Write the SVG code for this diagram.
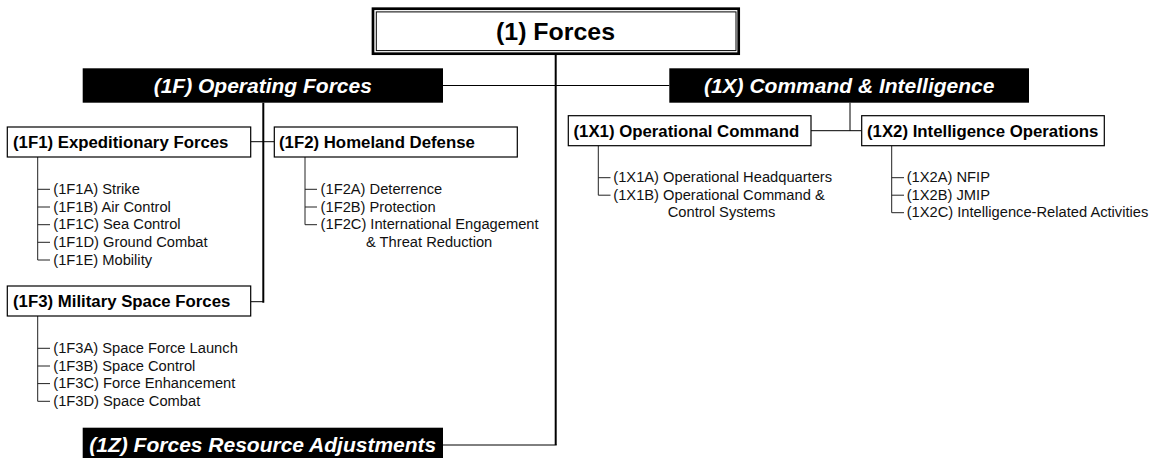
<svg xmlns="http://www.w3.org/2000/svg" width="1158" height="458" viewBox="0 0 1158 458">
<style>
.box{fill:#fff;stroke:#000;stroke-width:1.2}
.bar{fill:#000}
.bt{font-family:"Liberation Sans",Arial,sans-serif;font-weight:bold;font-size:16.8px;fill:#000}
.ht{font-family:"Liberation Sans",Arial,sans-serif;font-weight:bold;font-style:italic;font-size:21px;fill:#fff;text-anchor:middle}
.tt{font-family:"Liberation Sans",Arial,sans-serif;font-weight:bold;font-size:24px;fill:#000;text-anchor:middle}
.it{font-family:"Liberation Sans",Arial,sans-serif;font-size:14.7px;fill:#111}
.c{stroke:#000;fill:none;stroke-width:1}
.ck{stroke:#000;fill:none;stroke-width:2}
.sl{stroke:#222;fill:none;stroke-width:1}
</style>
<rect width="1158" height="458" fill="#fff"/>
<g id="connectors">
<path class="ck" d="M555.7 55V445"/>
<path class="c" d="M443 445H556.7" stroke-width="1.3"/>
<path class="c" d="M443 85.5H669.3"/>
<path class="ck" d="M263.3 102.7V302.7"/>
<path class="c" d="M250.7 301.7H264"/>
<path class="c" d="M250.7 141.7H274.3"/>
<path class="c" d="M850 102.7V130.7M811 130.7H861.7"/>
<path class="sl" d="M37.7 157V260H50M37.7 189.3H50M37.7 207H50M37.7 224.7H50M37.7 242.3H50"/>
<path class="sl" d="M305 157V224.7H317M305 189.3H317M305 207H317"/>
<path class="sl" d="M37.7 316V401.3H50M37.7 348.3H50M37.7 366H50M37.7 383.6H50"/>
<path class="sl" d="M598.3 145.7V195.2H610.5M598.3 177.7H610.5"/>
<path class="sl" d="M891.7 145.7V212.7H904M891.7 177.7H904M891.7 195.2H904"/>
</g>
<g id="n1">
<rect x="373" y="8.7" width="365.7" height="45" fill="#fff" stroke="#000" stroke-width="2.7"/>
<rect x="376.3" y="11.9" width="359.7" height="38.7" fill="none" stroke="#000" stroke-width="1"/>
<text class="tt" x="555.5" y="40" textLength="119" lengthAdjust="spacingAndGlyphs">(1) Forces</text>
</g>
<g id="n1F">
<rect class="bar" x="82.7" y="68.3" width="360.3" height="34.4"/>
<text class="ht" x="262.8" y="92.5">(1F) Operating Forces</text>
</g>
<g id="n1X">
<rect class="bar" x="669.3" y="68.3" width="359.7" height="34.4"/>
<text class="ht" x="849.2" y="92.5">(1X) Command &amp; Intelligence</text>
</g>
<g id="n1Z">
<rect class="bar" x="82.7" y="427.7" width="360.3" height="34.4"/>
<text class="ht" x="262.8" y="452.3">(1Z) Forces Resource Adjustments</text>
</g>
<g id="n1F1">
<rect class="box" x="7.3" y="127" width="243.4" height="30"/>
<text class="bt" x="13" y="148">(1F1) Expeditionary Forces</text>
</g>
<g id="n1F2">
<rect class="box" x="274.3" y="127" width="243" height="30"/>
<text class="bt" x="279" y="148">(1F2) Homeland Defense</text>
</g>
<g id="n1F3">
<rect class="box" x="7.3" y="286" width="243.4" height="30"/>
<text class="bt" x="13" y="307">(1F3) Military Space Forces</text>
</g>
<g id="n1X1">
<rect class="box" x="568.3" y="115.7" width="242.7" height="30"/>
<text class="bt" x="573.5" y="136.7">(1X1) Operational Command</text>
</g>
<g id="n1X2">
<rect class="box" x="861.7" y="115.7" width="242.6" height="30"/>
<text class="bt" x="867" y="136.7">(1X2) Intelligence Operations</text>
</g>
<g id="n1F1A"><text class="it" x="53.3" y="194">(1F1A) Strike</text></g>
<g id="n1F1B"><text class="it" x="53.3" y="211.7">(1F1B) Air Control</text></g>
<g id="n1F1C"><text class="it" x="53.3" y="229.4">(1F1C) Sea Control</text></g>
<g id="n1F1D"><text class="it" x="53.3" y="247">(1F1D) Ground Combat</text></g>
<g id="n1F1E"><text class="it" x="53.3" y="264.7">(1F1E) Mobility</text></g>
<g id="n1F2A"><text class="it" x="320.6" y="194">(1F2A) Deterrence</text></g>
<g id="n1F2B"><text class="it" x="320.6" y="211.7">(1F2B) Protection</text></g>
<g id="n1F2C"><text class="it" x="320.6" y="229.4">(1F2C) International Engagement</text><text class="it" x="366" y="247">&amp; Threat Reduction</text></g>
<g id="n1F3A"><text class="it" x="53.3" y="353">(1F3A) Space Force Launch</text></g>
<g id="n1F3B"><text class="it" x="53.3" y="370.7">(1F3B) Space Control</text></g>
<g id="n1F3C"><text class="it" x="53.3" y="388.3">(1F3C) Force Enhancement</text></g>
<g id="n1F3D"><text class="it" x="53.3" y="406">(1F3D) Space Combat</text></g>
<g id="n1X1A"><text class="it" x="613.3" y="182.4">(1X1A) Operational Headquarters</text></g>
<g id="n1X1B"><text class="it" x="613.3" y="199.9">(1X1B) Operational Command &amp;</text><text class="it" x="667.7" y="217.4">Control Systems</text></g>
<g id="n1X2A"><text class="it" x="906.7" y="182.4">(1X2A) NFIP</text></g>
<g id="n1X2B"><text class="it" x="906.7" y="199.9">(1X2B) JMIP</text></g>
<g id="n1X2C"><text class="it" x="906.7" y="217.4">(1X2C) Intelligence-Related Activities</text></g>
</svg>
